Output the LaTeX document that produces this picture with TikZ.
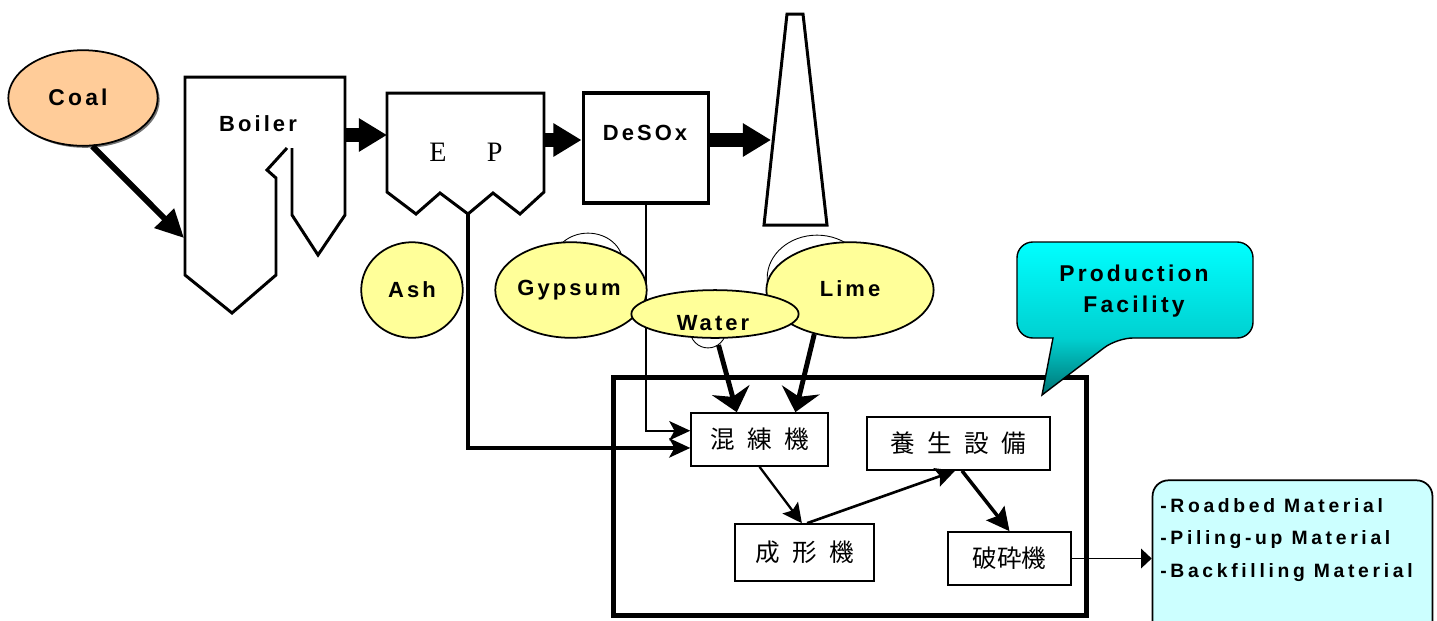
\documentclass[tikz,border=0pt]{standalone}
\usepackage{fontspec}
\usetikzlibrary{arrows.meta,shapes.geometric,calc}
\newfontfamily\lab{Liberation Sans}[LetterSpace=14]
\newfontfamily\labw{Liberation Sans}[LetterSpace=19]
\newfontfamily\cjk{Noto Sans CJK JP}
\newfontfamily\epfont{Liberation Serif}
\newcommand\cgap{\hspace{7pt}}
\definecolor{coalc}{RGB}{255,204,153}
\definecolor{yel}{RGB}{255,255,153}
\definecolor{lcyan}{RGB}{204,255,255}
\definecolor{cyantop}{RGB}{0,255,255}
\definecolor{cyanmid}{RGB}{0,208,208}
\definecolor{tealbot}{RGB}{0,115,115}
\pgfdeclareverticalshading{callshade}{100bp}{color(0bp)=(tealbot); color(25bp)=(tealbot); color(43.5bp)=(cyanmid); color(75bp)=(cyantop); color(100bp)=(cyantop)}
\begin{document}
\begin{tikzpicture}[x=0.02cm,y=-0.02cm,line join=miter,
  lbl/.style={font=\lab\bfseries\fontsize{12.5}{15}\selectfont, inner sep=0pt},
  blob/.style={ellipse, draw=black, line width=1pt, fill=yel, inner sep=0pt},
  ghost/.style={ellipse, draw=black, line width=0.5pt, fill=white, inner sep=0pt},
  cbox/.style={rectangle, draw=black, line width=1.1pt, fill=white, inner sep=0pt, font=\cjk\fontsize{14}{16}\selectfont},
  plant/.style={draw=black, line width=1.7pt, fill=white},
  fat/.style={line width=7.6pt, -{Triangle[length=16pt,width=18pt]}},
  feed/.style={line width=2.8pt, -{Stealth[length=13pt,width=22pt,inset=4pt]}},
  side/.style={-{Stealth[length=12pt,width=11pt,inset=3pt]}},
  flow/.style={line width=1.3pt, -{Stealth[length=11pt,width=11pt,inset=2pt]}},
]
\useasboundingbox (0,0) rectangle (1437,620);
\clip (0,0) rectangle (1437,620);
\fill[white] (0,0) rectangle (1437,620);

% coal
\node[ellipse, fill=black!55, minimum width=85pt, minimum height=54.4pt, inner sep=0pt] (coalshadow) at (85,100) {};
\node[blob, fill=coalc, minimum width=85pt, minimum height=54.4pt] (coal) at (83,98) {};
\node[lbl, font=\lab\bfseries\fontsize{13}{15}\selectfont] (coallbl) at (78,97) {Coal};

% boiler
\draw[plant] (287,148) -- (267,170) -- (276,178) -- (276,275) -- (232,313) -- (185,275) -- (185,77) -- (345,77) -- (345,215) -- (318,255) -- (292,215) -- (292,148);
\coordinate (boilerin) at (184,238);
\coordinate (boilerout) at (345,135);
\node[lbl] (boilerlbl) at (258,124) {Boiler};
\draw[line width=3.4pt, -{Triangle[length=16pt,width=15pt]}] (coal.-79) -- (boilerin);

% EP
\draw[plant] (387,93) -- (544,93) -- (544,192) -- (520,214) -- (493,193) -- (468,214) -- (440,193) -- (416,214) -- (387,192) -- cycle;
\coordinate (epin) at (387,135);
\coordinate (epout) at (544,140);
\coordinate (epbot) at (468,214);
\node[font=\epfont\fontsize{16}{18}\selectfont, inner sep=0pt] (eplbl) at (466,152) {E\hspace{23pt}P};

% DeSOx
\node[rectangle, draw=black, line width=2pt, fill=white, minimum width=71.4pt, minimum height=62.4pt, inner sep=0pt] (desox) at (646,148) {};
\node[lbl] (desoxlbl) at (645,133) {DeSOx};

% stack
\draw[plant] (787,14) -- (803,14) -- (827,225) -- (764,225) -- cycle;
\coordinate (stackin) at (771,140);

% fat flue-gas arrows
\draw[fat] (boilerout) -- (epin);
\draw[fat] (epout) -- (desox.west |- epout);
\draw[fat] (desox.east |- epout) -- (stackin);

% production facility
\node[rectangle, draw=black, line width=2.8pt, minimum width=268.8pt, minimum height=135.5pt, inner sep=0pt] (facility) at (850,496.5) {};
\node[cbox, minimum width=77.7pt, minimum height=30pt] (mixer) at (759.5,439.5) {混\cgap 練\cgap 機};
\node[cbox, minimum width=103.8pt, minimum height=30pt] (curing) at (958.5,443.5) {養\cgap 生\cgap 設\cgap 備};
\node[cbox, minimum width=78.8pt, minimum height=32.3pt] (former) at (804.5,552.5) {成\cgap 形\cgap 機};
\node[cbox, minimum width=69.7pt, minimum height=30pt] (crusher) at (1009.5,558.5) {破砕機};

% by-product lines into the mixer
\draw[side, line width=1.8pt] (epbot) |- ([yshift=-4.8pt]mixer.west);
\draw[side, line width=0.9pt] (desox.south) |- ([yshift=5pt]mixer.west);

% material blobs
\node[ghost, minimum width=39.7pt, minimum height=34pt] (gghost) at (588,263) {};
\node[ghost, minimum width=56.7pt, minimum height=48.8pt] (lghost) at (817,278) {};
\node[ghost, minimum width=20.4pt, minimum height=20.4pt] (wghost) at (708,330) {};
\node[blob, minimum width=57.8pt, minimum height=54.4pt] (ash) at (412,290) {};
\node[blob, minimum width=86.2pt, minimum height=54.4pt] (gypsum) at (571,290) {};
\node[blob, minimum width=95.2pt, minimum height=54.4pt] (lime) at (850,290) {};
\node[blob, minimum width=95.2pt, minimum height=27.2pt] (water) at (715,314) {};
\node[lbl] (ashlbl) at (412,290) {Ash};
\node[lbl] (gypsumlbl) at (569,290) {Gypsum};
\node[lbl] (limelbl) at (850,289) {Lime};
\node[lbl] (waterlbl) at (713,323) {Water};

\draw[feed] (wghost.-55) -- ($(mixer.north west)!0.336!(mixer.north east)$);
\draw[feed] (lime.-129) -- ($(mixer.north west)!0.759!(mixer.north east)$);

% internal flow
\draw[flow] (mixer.south) -- ([xshift=-1.5pt]former.north);
\draw[flow, line width=1.5pt] ([xshift=1.5pt]former.north) -- ([xshift=-2pt]curing.south);
\draw[flow, line width=2pt, -{Stealth[length=13pt,width=13pt,inset=2pt]}] ([xshift=2pt]curing.south) -- (crusher.north);

% output
\node[rectangle, rounded corners=9pt, draw=black, line width=1pt, fill=lcyan, minimum width=159.3pt, minimum height=96.4pt, inner sep=0pt] (outbox) at (1292.5,565) {};
\node[font=\labw\bfseries\fontsize{11}{18.4}\selectfont, align=left, anchor=west, inner sep=0pt] (outtext) at (1160,540) {-Roadbed Material\\-Piling-up Material\\-Backfilling Material};
\draw[line width=1.1pt, -{Triangle[length=6pt,width=11pt]}] (crusher.east) -- (crusher.east -| outbox.west);

% callout
\path[draw=black, line width=0.8pt, shading=callshade, rounded corners=9pt]
  (1017,290) -- (1017,242) -- (1253,242) -- (1253,338) -- (1117,338) [sharp corners] -- (1042,395) -- (1053,338) [rounded corners=9pt] -- (1017,338) -- cycle;
\node[font=\lab\bfseries\fontsize{13}{17.6}\selectfont, align=center, inner sep=0pt] (pflbl) at (1134,291.5) {Production\\Facility};
\end{tikzpicture}
\end{document}
